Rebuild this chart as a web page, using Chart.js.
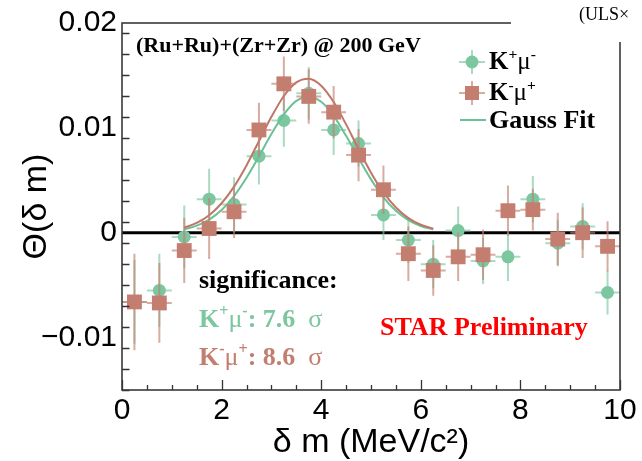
<!DOCTYPE html>
<html>
<head>
<meta charset="utf-8">
<script src="https://cdn.jsdelivr.net/npm/chart.js@4.4.0/dist/chart.umd.min.js"></script>
<style>
  html, body { margin: 0; padding: 0; background: #fff; }
  #chart { display: block; }
</style>
</head>
<body>
<canvas id="chart" width="642" height="461"></canvas>
<script>
// --- DATA ---
const binCenters = [0.25, 0.75, 1.25, 1.75, 2.25, 2.75, 3.25, 3.75, 4.25, 4.75,
                    5.25, 5.75, 6.25, 6.75, 7.25, 7.75, 8.25, 8.75, 9.25, 9.75];
const binHalfWidth = 0.25;

// K+ mu-
const kpmuValues = [-0.0066, -0.0055, -0.0004, 0.0032, 0.0027, 0.0073, 0.0107, 0.0133, 0.0098, 0.0085,
                    0.0017, -0.0007, -0.0030, 0.0002, -0.0027, -0.0023, 0.0032, -0.0010, 0.0006, -0.0057];
const kpmuErrors = [0.0040, 0.0035, 0.0030, 0.0029, 0.0026, 0.0027, 0.0025, 0.0025, 0.0024, 0.0022,
                    0.0024, 0.0022, 0.0023, 0.0023, 0.0022, 0.0023, 0.0022, 0.0022, 0.0022, 0.0021];

// K- mu+
const kmmuValues = [-0.0066, -0.0067, -0.0017, 0.0004, 0.0020, 0.0098, 0.0142, 0.0130, 0.0115, 0.0074,
                    0.0041, -0.0020, -0.0036, -0.0023, -0.0021, 0.0021, 0.0022, -0.0006, 0.0000, -0.0013];
const kmmuErrors = [0.0046, 0.0038, 0.0031, 0.0029, 0.0025, 0.0026, 0.0026, 0.0026, 0.0025, 0.0025,
                    0.0023, 0.0026, 0.0024, 0.0023, 0.0024, 0.0024, 0.0020, 0.0025, 0.0024, 0.0024];

// Gauss fit curves
const fitX = [1.25, 1.5, 1.75, 2.0, 2.25, 2.5, 2.75, 3.0, 3.25, 3.5, 3.75,
              4.0, 4.25, 4.5, 4.75, 5.0, 5.25, 5.5, 5.75, 6.0, 6.25];
const fitKpmu = [0.00033, 0.00067, 0.00125, 0.00217, 0.00350, 0.00524, 0.00729, 0.00941, 0.01128, 0.01257, 0.01300,
                 0.01249, 0.01115, 0.00924, 0.00712, 0.00509, 0.00338, 0.00209, 0.00120, 0.00064, 0.00031];
const fitKmmu = [0.00048, 0.00093, 0.00167, 0.00281, 0.00440, 0.00642, 0.00873, 0.01105, 0.01304, 0.01434, 0.01469,
                 0.01402, 0.01246, 0.01033, 0.00797, 0.00573, 0.00384, 0.00240, 0.00139, 0.00076, 0.00038];

const xMin = 0, xMax = 10;
const yMin = -0.015, yMax = 0.02;
const xMajorStep = 2, xMinorStep = 0.5;
const yMajorStep = 0.01, yMinorStep = 0.002;

// --- STYLE ---
const SERIF = '"Liberation Serif", "Times New Roman", serif';
const SANS = '"Liberation Sans", Arial, Helvetica, sans-serif';
const GREEN = 'rgb(124, 198, 160)';
const GREEN_ERR = 'rgba(124, 198, 160, 0.65)';
const GREEN_LINE = 'rgb(108, 192, 150)';
const RED = 'rgb(196, 126, 112)';
const RED_ERR = 'rgba(196, 126, 112, 0.65)';
const RED_LINE = 'rgb(192, 118, 102)';

const toPoints = (xs, ys) => xs.map((x, i) => ({ x: x, y: ys[i] }));

// draws text pieces, style: b = bold, n = normal, sup = superscript
function richText(ctx, parts, x, y, size, color) {
    let cx = x;
    ctx.fillStyle = color;
    ctx.textBaseline = 'alphabetic';
    ctx.textAlign = 'left';
    parts.forEach(([txt, style]) => {
        let fs = size, dy = 0, weight = 'bold';
        if (style === 'sup') { fs = size * 0.62; dy = -size * 0.42; }
        if (style === 'n') weight = 'normal';
        ctx.font = `${weight} ${fs}px ${SERIF}`;
        ctx.fillText(txt, cx, y + dy);
        cx += ctx.measureText(txt).width;
    });
}

// --- PLUGINS ---
const zeroLine = {
    id: 'zeroLine',
    beforeDatasetsDraw(chart) {
        const { ctx, chartArea, scales: { y } } = chart;
        const py = y.getPixelForValue(0);
        ctx.save();
        ctx.strokeStyle = '#000';
        ctx.lineWidth = 3;
        ctx.beginPath();
        ctx.moveTo(chartArea.left, py);
        ctx.lineTo(chartArea.right, py);
        ctx.stroke();
        ctx.restore();
    }
};

const errorBars = {
    id: 'errorBars',
    beforeDatasetDraw(chart, args) {
        const ds = chart.data.datasets[args.index];
        if (!ds.yErr) return;
        const { ctx, scales: { x, y } } = chart;
        ctx.save();
        ctx.strokeStyle = ds.errColor;
        ctx.lineWidth = 2;
        ds.data.forEach((pt, i) => {
            const px = x.getPixelForValue(pt.x);
            const py = y.getPixelForValue(pt.y);
            ctx.beginPath();
            ctx.moveTo(px, y.getPixelForValue(pt.y + ds.yErr[i]));
            ctx.lineTo(px, y.getPixelForValue(pt.y - ds.yErr[i]));
            ctx.moveTo(x.getPixelForValue(pt.x - binHalfWidth), py);
            ctx.lineTo(x.getPixelForValue(pt.x + binHalfWidth), py);
            ctx.stroke();
        });
        ctx.restore();
    }
};

const frameAndText = {
    id: 'frameAndText',
    afterDraw(chart) {
        const { ctx, chartArea: a, scales: { x, y } } = chart;
        ctx.save();

        // inner ticks
        ctx.strokeStyle = '#333';
        ctx.lineWidth = 1.3;
        ctx.beginPath();
        for (let v = xMin; v <= xMax + 1e-9; v += xMinorStep) {
            const major = Math.abs(v / xMajorStep - Math.round(v / xMajorStep)) < 1e-6;
            const px = Math.round(x.getPixelForValue(v)) + 0.5;
            ctx.moveTo(px, a.bottom);
            ctx.lineTo(px, a.bottom - (major ? 10 : 5));
        }
        for (let v = yMin; v <= yMax + 1e-9; v += yMinorStep) {
            const major = Math.abs(v / yMajorStep - Math.round(v / yMajorStep)) < 1e-6;
            const py = Math.round(y.getPixelForValue(v)) + 0.5;
            ctx.moveTo(a.left, py);
            ctx.lineTo(a.left + (major ? 15 : 7.5), py);
        }
        ctx.stroke();

        // frame
        ctx.lineWidth = 1.6;
        ctx.strokeStyle = '#3a3a3a';
        ctx.strokeRect(a.left, a.top, a.right - a.left, a.bottom - a.top);

        // cover for the clipped top-right corner
        ctx.fillStyle = '#fff';
        ctx.fillRect(511, 0, 642 - 511, 42);
        ctx.font = `normal 18px ${SERIF}`;
        ctx.fillStyle = '#000';
        ctx.textBaseline = 'alphabetic';
        ctx.fillText('(ULS\u00d7', 579, 20);

        // header
        richText(ctx, [['(Ru+Ru)+(Zr+Zr) @ 200 GeV', 'b']], 136, 52, 22, '#000');

        // legend
        ctx.strokeStyle = GREEN_ERR;
        ctx.lineWidth = 2;
        ctx.beginPath();
        ctx.moveTo(459, 62); ctx.lineTo(485, 62);
        ctx.moveTo(472, 50); ctx.lineTo(472, 74);
        ctx.stroke();
        ctx.fillStyle = GREEN;
        ctx.beginPath(); ctx.arc(472, 62, 6.5, 0, Math.PI * 2); ctx.fill();
        ctx.strokeStyle = RED_ERR;
        ctx.beginPath();
        ctx.moveTo(459, 93); ctx.lineTo(485, 93);
        ctx.moveTo(472, 81); ctx.lineTo(472, 105);
        ctx.stroke();
        ctx.fillStyle = RED;
        ctx.fillRect(465, 86, 14, 14);
        ctx.strokeStyle = GREEN_LINE;
        ctx.beginPath(); ctx.moveTo(460, 120); ctx.lineTo(486, 120); ctx.stroke();

        richText(ctx, [['K', 'b'], ['+', 'sup'], ['\u03bc', 'n'], ['-', 'sup']], 489, 69, 25, '#000');
        richText(ctx, [['K', 'b'], ['-', 'sup'], ['\u03bc', 'n'], ['+', 'sup']], 489, 100, 25, '#000');
        richText(ctx, [['Gauss Fit', 'b']], 489, 128, 26, '#000');

        // significance block
        richText(ctx, [['significance:', 'b']], 199, 288, 26, '#000');
        richText(ctx, [['K', 'b'], ['+', 'sup'], ['\u03bc', 'n'], ['-', 'sup'], [': 7.6  ', 'b'], ['\u03c3', 'n']], 199, 327, 26, GREEN);
        richText(ctx, [['K', 'b'], ['-', 'sup'], ['\u03bc', 'n'], ['+', 'sup'], [': 8.6  ', 'b'], ['\u03c3', 'n']], 199, 365, 26, RED);

        richText(ctx, [['STAR Preliminary', 'b']], 380, 335, 26, '#ff0000');
        ctx.restore();
    }
};

// --- CHART ---
const chart = new Chart(document.getElementById('chart'), {
    type: 'scatter',
    data: {
        datasets: [
            {
                label: 'K-mu+',
                data: toPoints(binCenters, kmmuValues),
                yErr: kmmuErrors,
                errColor: RED_ERR,
                pointStyle: 'rect',
                pointRadius: 10.5,
                backgroundColor: RED,
                borderWidth: 0,
                order: 0
            },
            {
                label: 'fit K-mu+',
                data: toPoints(fitX, fitKmmu),
                showLine: true,
                pointRadius: 0,
                borderColor: RED_LINE,
                borderWidth: 2,
                cubicInterpolationMode: 'monotone',
                order: 1
            },
            {
                label: 'fit K+mu-',
                data: toPoints(fitX, fitKpmu),
                showLine: true,
                pointRadius: 0,
                borderColor: GREEN_LINE,
                borderWidth: 2,
                cubicInterpolationMode: 'monotone',
                order: 2
            },
            {
                label: 'K+mu-',
                data: toPoints(binCenters, kpmuValues),
                yErr: kpmuErrors,
                errColor: GREEN_ERR,
                pointStyle: 'circle',
                pointRadius: 6.5,
                backgroundColor: GREEN,
                borderWidth: 0,
                order: 3
            }
        ]
    },
    options: {
        responsive: false,
        animation: false,
        devicePixelRatio: 1,
        layout: { padding: { top: 22, right: 22, left: 0, bottom: 0 } },
        plugins: {
            legend: { display: false },
            tooltip: { enabled: false }
        },
        scales: {
            x: {
                type: 'linear',
                min: xMin,
                max: xMax,
                grid: { display: false, drawTicks: false },
                border: { display: false },
                ticks: {
                    stepSize: xMajorStep,
                    color: '#000',
                    padding: 3,
                    font: { family: SANS, size: 30 },
                    maxRotation: 0
                },
                title: {
                    display: true,
                    text: '\u03b4 m (MeV/c\u00b2)',
                    color: '#000',
                    font: { family: SANS, size: 34, lineHeight: 1 },
                    padding: { top: 0, bottom: 1 }
                },
                afterFit(scale) { scale.height = 71; }
            },
            y: {
                type: 'linear',
                min: yMin,
                max: yMax,
                grid: { display: false, drawTicks: false },
                border: { display: false },
                ticks: {
                    stepSize: yMajorStep,
                    includeBounds: false,
                    color: '#000',
                    padding: 5,
                    font: { family: SANS, size: 30 },
                    callback: v => {
                        if (Math.abs(v / yMajorStep - Math.round(v / yMajorStep)) > 1e-6) return '';
                        const r = Math.round(v * 100) / 100;
                        return r === 0 ? '0' : String(r).replace('-', '\u2212');
                    }
                },
                title: {
                    display: true,
                    text: '\u0398(\u03b4 m)',
                    color: '#000',
                    font: { family: SANS, size: 34, lineHeight: 1 },
                    padding: { top: 20 }
                },
                afterFit(scale) { scale.width = 122; }
            }
        }
    },
    plugins: [zeroLine, errorBars, frameAndText]
});
</script>
</body>
</html>
